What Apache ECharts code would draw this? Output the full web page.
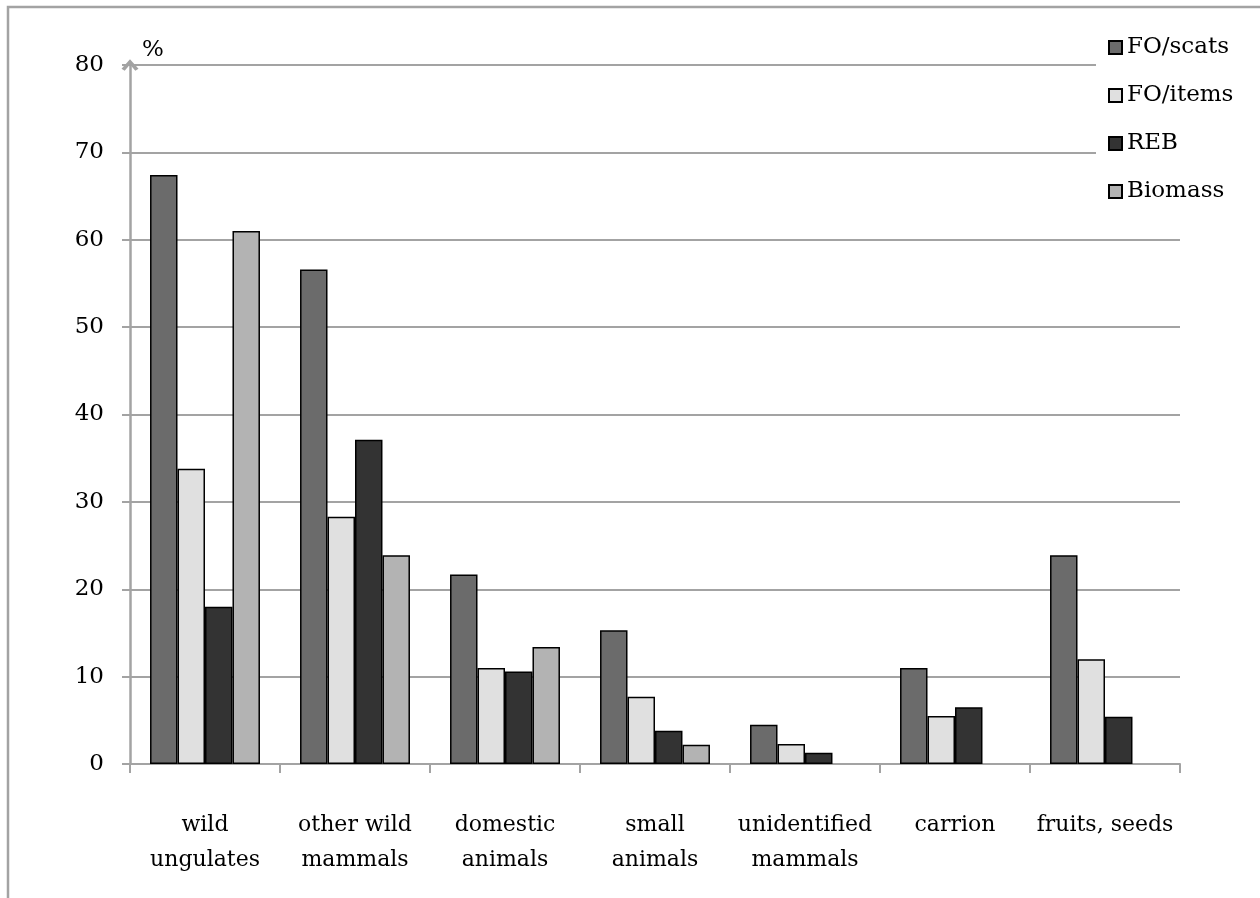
<!DOCTYPE html>
<html>
<head>
<meta charset="utf-8">
<script src="https://cdn.jsdelivr.net/npm/echarts@6/dist/echarts.min.js"></script>
<style>html,body{margin:0;padding:0;background:#fff}#c{width:1260px;height:898px}</style>
</head>
<body>
<div id="c"></div>
<script>
const categories = ['wild\nungulates', 'other wild\nmammals', 'domestic\nanimals', 'small\nanimals', 'unidentified\nmammals', 'carrion', 'fruits, seeds'];
const foScats = [67.4, 56.6, 21.7, 15.3, 4.5, 11.0, 23.9];
const foItems = [33.8, 28.3, 11.0, 7.7, 2.3, 5.5, 12.0];
const reb = [18.0, 37.1, 10.6, 3.8, 1.3, 6.5, 5.4];
const biomass = [61.0, 23.9, 13.4, 2.2, null, null, null];
const seriesNames = ['FO/scats', 'FO/items', 'REB', 'Biomass'];
const yTicks = [0, 10, 20, 30, 40, 50, 60, 70, 80];

const FONT = 'DejaVu Serif';
const AX = '#a3a3a3';
const TXT = '#000';
const colors = ['#6b6b6b', '#e0e0e0', '#333333', '#b3b3b3'];
const dataSets = [foScats, foItems, reb, biomass];

const chart = echarts.init(document.getElementById('c'), null, {renderer: 'canvas'});
chart.setOption({
  animation: false,
  backgroundColor: '#fff',
  textStyle: {fontFamily: FONT},
  grid: {left: 130, right: 80, top: 65, bottom: 134, containLabel: false},
  legend: {
    orient: 'vertical',
    left: 1096,
    top: 24,
    backgroundColor: '#fff',
    padding: [12, 20, 12, 12],
    itemWidth: 13,
    itemHeight: 13,
    itemGap: 25,
    itemTextGap: 8,
    icon: 'rect',
    data: seriesNames,
    textStyle: {fontFamily: FONT, fontSize: 23, color: TXT}
  },
  xAxis: {
    type: 'category',
    data: categories,
    axisLine: {lineStyle: {color: AX, width: 2}},
    axisTick: {show: true, length: 9, lineStyle: {color: AX, width: 2}},
    axisLabel: {fontFamily: FONT, fontSize: 22, color: TXT, lineHeight: 35, margin: 44, interval: 0}
  },
  yAxis: {
    type: 'value',
    min: 0,
    max: 80,
    interval: 10,
    name: '%',
    nameLocation: 'end',
    nameGap: 3,
    nameTextStyle: {fontFamily: FONT, fontSize: 23, color: TXT, align: 'left', padding: [0, 0, 0, 12]},
    axisLine: {show: true, lineStyle: {color: AX, width: 2.5}, symbol: ['none', 'path://M0,9 L8,0 L16,9 L13,11 L8,5 L3,11 Z'], symbolSize: [17, 12], symbolOffset: [0, 0]},
    axisTick: {show: true, length: 8, inside: false, lineStyle: {color: AX, width: 2}},
    axisLabel: {fontFamily: FONT, fontSize: 23, color: TXT, margin: 26,
      formatter: v => yTicks.includes(v) ? String(v) : ''},
    splitLine: {show: true, lineStyle: {color: AX, width: 2}}
  },
  series: seriesNames.map((n, i) => ({
    name: n,
    type: 'bar',
    data: dataSets[i],
    barGap: '0%',
    barCategoryGap: '26.7%',
    itemStyle: {color: colors[i], borderColor: '#000', borderWidth: 1.5}
  })),
  graphic: [{
    type: 'rect',
    shape: {x: 8, y: 7, width: 1270, height: 910},
    style: {fill: 'none', stroke: AX, lineWidth: 2.5},
    silent: true,
    z: 100
  }]
});
</script>
</body>
</html>
